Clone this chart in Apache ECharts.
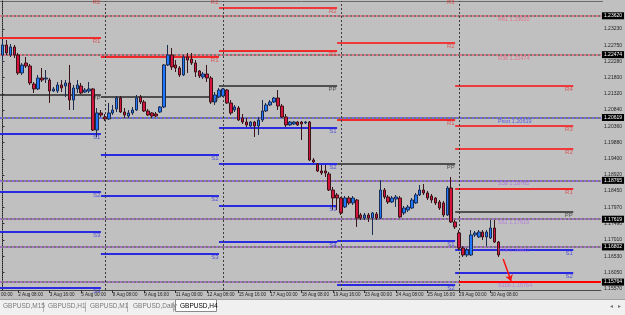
<!DOCTYPE html>
<html><head><meta charset="utf-8">
<script src="https://cdn.jsdelivr.net/npm/echarts@6/dist/echarts.min.js"></script>
<style>html,body{margin:0;padding:0;background:#c0c0c0;overflow:hidden}#c{width:625px;height:315px}</style>
</head><body><div id="c"></div>
<script>
// ---- H4 candles, bar 0 = 1 Aug 16:00 (GBPUSD) ----
const opens = [1.22464,1.22759,1.22464,1.22700,1.22464,1.21933,1.22228,1.22139,1.21608,1.21461,1.21785,1.21756,1.21726,1.21402,1.21402,1.21579,1.21549,1.21638,1.21136,1.21461,1.21549,1.21372,1.21402,1.21461,1.20251,1.20753,1.20635,1.20576,1.20753,1.20871,1.21195,1.20782,1.20664,1.20753,1.20841,1.21225,1.21077,1.20812,1.20753,1.20723,1.20782,1.20930,1.22169,1.22464,1.22169,1.22080,1.21874,1.22405,1.22346,1.22228,1.21992,1.21815,1.21903,1.21785,1.21077,1.21225,1.21254,1.21431,1.21048,1.20841,1.20900,1.20605,1.20487,1.20369,1.20487,1.20369,1.20546,1.20812,1.20989,1.21077,1.21195,1.20959,1.20635,1.20399,1.20428,1.20487,1.20487,1.20458,1.20487,1.19366,1.19248,1.19042,1.19042,1.18953,1.18481,1.18334,1.18245,1.17980,1.18245,1.18098,1.18186,1.17744,1.17655,1.17744,1.17655,1.17773,1.17655,1.18481,1.18275,1.18127,1.18216,1.18245,1.17803,1.17891,1.17950,1.18098,1.18334,1.18481,1.18393,1.18304,1.18245,1.18127,1.18098,1.17744,1.18540,1.17537,1.17213,1.16770,1.16564,1.16564,1.17154,1.17095,1.17242,1.17095,1.17065,1.17360,1.16947];
const closes = [1.22759,1.22523,1.22700,1.22464,1.21933,1.22169,1.22139,1.21638,1.21461,1.21785,1.21726,1.21785,1.21402,1.21461,1.21579,1.21490,1.21638,1.21136,1.21490,1.21579,1.21343,1.21431,1.21461,1.20251,1.20753,1.20694,1.20576,1.20753,1.20841,1.21195,1.20782,1.20694,1.20753,1.20841,1.21195,1.21077,1.20812,1.20694,1.20664,1.20664,1.20930,1.22169,1.22464,1.22110,1.22080,1.21874,1.22405,1.22316,1.22228,1.21962,1.21844,1.21903,1.21785,1.21077,1.21284,1.21431,1.21461,1.21048,1.20753,1.20930,1.20546,1.20487,1.20399,1.20487,1.20369,1.20546,1.20812,1.20989,1.21077,1.21195,1.20959,1.20635,1.20399,1.20487,1.20487,1.20399,1.20428,1.20487,1.19366,1.19307,1.19042,1.18983,1.18983,1.18481,1.18245,1.18245,1.17803,1.18245,1.18098,1.18245,1.17655,1.17655,1.17744,1.17655,1.17803,1.17655,1.18481,1.18275,1.18127,1.18245,1.18275,1.17685,1.17950,1.17980,1.18186,1.18334,1.18481,1.18393,1.18245,1.18186,1.18098,1.17950,1.17744,1.18540,1.17537,1.17390,1.16770,1.16564,1.16711,1.17154,1.17213,1.17242,1.17095,1.17242,1.17360,1.16947,1.16564];
const lows = [1.22316,1.22464,1.22405,1.22375,1.21874,1.21874,1.22080,1.21579,1.21343,1.21431,1.21667,1.21638,1.21048,1.21372,1.21343,1.21372,1.21225,1.20841,1.20841,1.21343,1.21313,1.21343,1.21343,1.20222,1.20045,1.20635,1.20517,1.20546,1.20694,1.20782,1.20753,1.20605,1.20605,1.20694,1.20812,1.21018,1.20782,1.20664,1.20605,1.20635,1.20753,1.20900,1.22139,1.22021,1.21962,1.21815,1.21844,1.21933,1.22169,1.21815,1.21785,1.21756,1.21667,1.21018,1.20989,1.21195,1.21225,1.21018,1.20694,1.20782,1.20517,1.20428,1.20340,1.20340,1.20045,1.20104,1.20487,1.20782,1.20959,1.21048,1.20841,1.20605,1.20340,1.20369,1.20399,1.20369,1.19956,1.20428,1.19337,1.19278,1.19012,1.18924,1.18865,1.18452,1.17891,1.17891,1.17744,1.17950,1.18039,1.18039,1.17390,1.17596,1.17596,1.17537,1.17154,1.17596,1.17626,1.18216,1.18068,1.18098,1.17980,1.17655,1.17744,1.17832,1.17921,1.18068,1.18304,1.18334,1.18186,1.18098,1.18039,1.17891,1.17685,1.17714,1.17508,1.17331,1.16711,1.16505,1.16505,1.16534,1.17095,1.17065,1.17006,1.16829,1.17036,1.16918,1.16505];
const highs = [1.22906,1.22906,1.22788,1.22759,1.22523,1.22228,1.22405,1.22198,1.21667,1.21874,1.22080,1.22021,1.21785,1.21520,1.21667,1.21726,1.21726,1.22169,1.21579,1.21726,1.21638,1.21490,1.21667,1.21490,1.20900,1.20841,1.20723,1.21048,1.20989,1.21254,1.21254,1.20900,1.20841,1.20930,1.21284,1.21284,1.21136,1.20871,1.20782,1.20782,1.20959,1.22198,1.22759,1.22670,1.22316,1.22139,1.22464,1.22523,1.22523,1.22316,1.22021,1.21962,1.22169,1.21844,1.21372,1.21490,1.21490,1.21461,1.21136,1.20989,1.20959,1.20723,1.20605,1.20517,1.20517,1.20635,1.21136,1.21048,1.21136,1.21225,1.21431,1.21018,1.20723,1.20517,1.20517,1.20517,1.20517,1.20517,1.20517,1.19425,1.19278,1.19219,1.19219,1.19012,1.18570,1.18393,1.18275,1.18304,1.18304,1.18304,1.18216,1.17803,1.17803,1.17803,1.17832,1.17832,1.18776,1.18540,1.18334,1.18304,1.18334,1.18304,1.18009,1.18039,1.18245,1.18393,1.18629,1.18658,1.18452,1.18363,1.18275,1.18186,1.18157,1.18599,1.18865,1.17596,1.17301,1.16829,1.16770,1.17301,1.17272,1.17301,1.17301,1.17301,1.17596,1.17596,1.16977];

// ---- time axis ticks (bar index -> label) ----
const timeTickBars = [4,12,20,28,36,44,52,60,68,76,84,92,100,108,116,124];
const timeTickLabels = ['2 Aug 08:00','3 Aug 16:00','5 Aug 00:00','8 Aug 08:00','9 Aug 16:00','11 Aug 00:00','12 Aug 08:00','15 Aug 16:00','17 Aug 00:00','18 Aug 08:00','19 Aug 16:00','23 Aug 00:00','24 Aug 08:00','25 Aug 16:00','29 Aug 00:00','30 Aug 08:00'];

// ---- price axis ticks ----
const priceTickLabels = ['1.23230','1.22750','1.22280','1.21800','1.21320','1.20840','1.20360','1.19880','1.19400','1.18920','1.18450','1.17970','1.17490','1.17010','1.16530','1.16050','1.15570'];

// ---- weekly period separators (bar index of Monday 00:00) ----
const weekSeparators = [26,56,86,116];

// ---- weekly pivot levels, one value per week ----
const weekFrom = [-5,25,55,85,115];
const weekTo   = [25,55,85,115,145];
const R4 = [null,null,null,null,1.21549];
const R3 = [null,null,null,1.24116,1.20369];
const R2 = [1.24116,1.24116,1.23850,1.22818,1.19691];
const R1 = [1.22965,1.22405,1.22582,1.20546,1.18511];
const PP = [1.21284,1.21225,1.21549,1.19248,1.17832];
const S1 = [1.20133,1.19514,1.20310,1.16977,1.16711];
const S2 = [1.18422,1.18304,1.19248,1.15679,1.16032];
const S3 = [1.17242,1.16593,1.18009,null,null];
const S4 = [1.15590,null,1.16947,null,null];

// ---- Fibonacci pivot levels ----
const fibNames  = ['R61','R38','Pivot','S38','S61','S78','S100'];
const fibValues = [1.23620,1.22474,1.20619,1.18765,1.17619,1.16802,1.15764];

// ---- arrow + alert line ----
const arrowFrom = [127.2, 1.16446];
const arrowTo   = [129.2, 1.15796];
const alertLineFrom = 116;
const alertLineValue = 1.15764;

const XMIN = -0.633, XMAX = 152.03, YMIN = 1.15531, YMAX = 1.240565;
const FONT = '"Liberation Sans", Arial, sans-serif';

const chart = echarts.init(document.getElementById('c'));

const candleData = opens.map((o, k) => [k, o, closes[k], lows[k], highs[k]]);
const lastClose = closes[closes.length - 1];

const levelDefs = [
  ['R4', R4, '#ee3a3a', 2], ['R3', R3, '#ee3a3a', 2], ['R2', R2, '#ee3a3a', 2], ['R1', R1, '#ee2a2a', 2],
  ['PP', PP, '#2a2a2a', 1.5],
  ['S1', S1, '#2a2ae0', 2], ['S2', S2, '#2a2ae0', 2], ['S3', S3, '#2a2ae0', 2], ['S4', S4, '#2a2ae0', 2]
];
const labelColor = {R: '#e03a3a', P: '#333333', S: '#3535d8'};

const series = [];
levelDefs.forEach(([name, arr, color, w]) => {
  const d = [];
  arr.forEach((v, k) => { if (v == null) return; d.push([weekFrom[k], v], [weekTo[k], v], [weekTo[k], '-']); });
  series.push({type: 'line', name, data: d, symbol: 'none', silent: true, z: 3,
    lineStyle: {color, width: w}, connectNulls: false});
});

// pivot level labels
const pivotLabelData = [];
levelDefs.forEach(([name, arr]) => {
  arr.forEach((v, k) => {
    if (v == null) return;
    pivotLabelData.push({value: [weekTo[k], v], label: {formatter: name, color: labelColor[name[0]]}});
  });
});
series.push({type: 'scatter', data: pivotLabelData, symbolSize: 1, clip: false, silent: true, z: 6,
  itemStyle: {color: 'rgba(0,0,0,0)'},
  label: {show: true, position: [0, 1], align: 'right', verticalAlign: 'top', fontSize: 6, fontFamily: FONT}});

// fib levels
const fibLineColor = ['#e07888','#e07888','#6a6ae0','#9a6ad8','#a872c8','#a872c8','#a872c8'];
const fibTextColor = ['#e8607a','#e8607a','#3c3cf0','#a060e8','#b070e0','#b070e0','#b070e0'];
series.push({type: 'line', data: [], silent: true, z: 2,
  markLine: {silent: true, symbol: 'none', animation: false, precision: 6,
    data: fibValues.map((v, k) => ({yAxis: v, lineStyle: {color: fibLineColor[k], width: 2, type: [2, 2]}, label: {show: false}}))}});
series.push({type: 'line', data: [], silent: true, z: 2,
  markLine: {silent: true, symbol: 'none', animation: false, precision: 6,
    data: fibValues.map((v) => ({yAxis: v, lineStyle: {color: '#787878', width: 2, type: [2, 2], dashOffset: 2},
      label: {show: true, position: 'end', distance: 1, formatter: v.toFixed(5), backgroundColor: '#000', color: '#fff',
        fontSize: 5, fontFamily: FONT, padding: [1, 2, 1, 2]}}))}});
series.push({type: 'scatter', silent: true, z: 6, symbolSize: 1, clip: false, itemStyle: {color: 'rgba(0,0,0,0)'},
  data: fibValues.map((v, k) => ({value: [126, v], label: {formatter: fibNames[k] + ' ' + v.toFixed(5), color: fibTextColor[k]}})),
  label: {show: true, position: [0, 1], align: 'left', verticalAlign: 'top', fontSize: 5.5, fontFamily: FONT}});

// week separators
series.push({type: 'line', data: [], silent: true, z: 2,
  markLine: {silent: true, symbol: 'none', animation: false, precision: 6, label: {show: false},
    lineStyle: {color: '#3c3c3c', width: 1, type: [2, 2]},
    data: weekSeparators.map(x => ({xAxis: x}))}});

// alert line + arrow
series.push({type: 'line', data: [], silent: true, z: 4,
  markLine: {silent: true, animation: false, precision: 6, label: {show: false}, symbol: 'none',
    data: [
      [{coord: [alertLineFrom, alertLineValue], symbol: 'none', lineStyle: {color: '#ff0000', width: 2, type: 'solid'}},
       {coord: [XMAX, alertLineValue], symbol: 'none'}],
      [{coord: arrowFrom, symbol: 'none', lineStyle: {color: '#ff1010', width: 1.5, type: 'solid'}},
       {coord: arrowTo, symbol: 'arrow', symbolSize: 6, itemStyle: {color: '#ff1010'}}]
    ]}});

// current price box
series.push({type: 'line', data: [], silent: true, z: 4,
  markLine: {silent: true, animation: false, precision: 6, symbol: 'none',
    lineStyle: {width: 0, opacity: 0},
    data: [{yAxis: lastClose,
      label: {show: true, position: 'end', distance: 1, formatter: lastClose.toFixed(5),
        backgroundColor: '#000', color: '#fff', fontSize: 5, fontFamily: FONT, padding: [1, 2, 1, 2]}}]}});

// candles
series.push({type: 'candlestick', data: candleData, encode: {x: 0, y: [1, 2, 3, 4]}, barWidth: 3, z: 5, silent: true,
  itemStyle: {color: '#1f78ff', color0: '#d4143c', borderColor: '#1c2c50', borderColor0: '#3a1418', borderWidth: 1}});

const tabs = [['GBPUSD,M15', 3], ['GBPUSD,H1', 48], ['GBPUSD,M1', 90], ['GBPUSD,Daily', 133], ['GBPUSD,H4', 180]];
const graphic = [
  {type: 'line', shape: {x1: 0, y1: 1.5, x2: 603, y2: 1.5}, style: {stroke: '#6a6a6a', lineWidth: 1}, silent: true},
  {type: 'rect', shape: {x: 0, y: 299, width: 625, height: 16}, style: {fill: '#f0f0f0'}, silent: true},
  {type: 'line', shape: {x1: 0, y1: 299.5, x2: 625, y2: 299.5}, style: {stroke: '#a0a0a0'}, silent: true},
  {type: 'rect', shape: {x: 175.5, y: 299.5, width: 41, height: 12}, style: {fill: '#ffffff', stroke: '#8a8a8a'}, silent: true}
];
[43.5, 85.5, 127.5, 173.5].forEach(x => graphic.push({type: 'line', shape: {x1: x, y1: 302, x2: x, y2: 312}, style: {stroke: '#b4b4b4'}, silent: true}));
tabs.forEach(([t, x], k) => graphic.push({type: 'text', x, y: 306.5, silent: true,
  style: {text: t, fill: k === 4 ? '#000' : '#7a7a7a', font: '6.5px ' + FONT, verticalAlign: 'middle'}}));
graphic.push({type: 'text', x: 1, y: 295, silent: true, style: {text: '00:00', fill: '#222', font: '4.6px ' + FONT, verticalAlign: 'middle'}});
graphic.push({type: 'text', x: 610, y: 306.5, silent: true, style: {text: '\u25C2', fill: '#777', font: '6px ' + FONT, verticalAlign: 'middle'}});
graphic.push({type: 'text', x: 618, y: 306.5, silent: true, style: {text: '\u25B8', fill: '#777', font: '6px ' + FONT, verticalAlign: 'middle'}});

chart.setOption({
  animation: false,
  backgroundColor: '#c0c0c0',
  grid: {left: 0, top: 1, width: 603, height: 289, containLabel: false},
  xAxis: {type: 'value', min: XMIN, max: XMAX,
    axisLine: {show: true, lineStyle: {color: '#4a4a4a', width: 1}},
    axisTick: {show: true, customValues: timeTickBars, length: 3, lineStyle: {color: '#333'}},
    axisLabel: {show: true, customValues: timeTickBars, align: 'left', margin: 2, fontSize: 4.6, color: '#1e1e1e', fontFamily: FONT,
      formatter: v => { const k = timeTickBars.indexOf(Math.round(v)); return k >= 0 ? timeTickLabels[k] : ''; }},
    splitLine: {show: false}},
  yAxis: {type: 'value', position: 'right', min: YMIN, max: YMAX, scale: true,
    axisLine: {show: true, lineStyle: {color: '#202020', width: 1, type: [1, 1]}},
    axisTick: {show: true, customValues: priceTickLabels.map(Number), length: 2, lineStyle: {color: '#333'}},
    axisLabel: {show: true, customValues: priceTickLabels.map(Number), margin: 3, fontSize: 5, color: '#1e1e1e', fontFamily: FONT,
      formatter: v => { const k = priceTickLabels.map(Number).findIndex(p => Math.abs(p - v) < 1e-7); return k >= 0 ? priceTickLabels[k] : ''; }},
    splitLine: {show: false}},
  graphic,
  series
});
</script></body></html>
